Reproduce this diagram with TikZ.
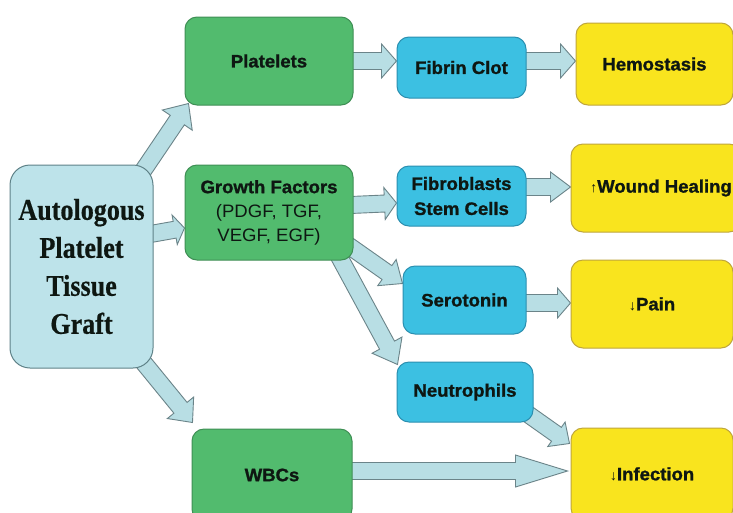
\documentclass[tikz,border=0pt]{standalone}
\usepackage{fontspec}
\usetikzlibrary{calc}
\newfontfamily\graftfont[FakeStretch=0.87, BoldFeatures={FakeBold=0.6}]{Liberation Serif}
\newfontfamily\labf[FakeStretch=1.03, BoldFeatures={FakeBold=1.2}]{Liberation Sans}
\definecolor{graftfill}{HTML}{BDE3EA}
\definecolor{graftdraw}{HTML}{5F8288}
\definecolor{greenfill}{HTML}{52BB6E}
\definecolor{greendraw}{HTML}{3F8F55}
\definecolor{bluefill}{HTML}{3CC0E2}
\definecolor{bluedraw}{HTML}{2B8FB0}
\definecolor{yelfill}{HTML}{F9E41E}
\definecolor{yeldraw}{HTML}{BFA63C}
\definecolor{arrfill}{HTML}{B8DEE4}
\definecolor{arrdraw}{HTML}{6B8489}
\definecolor{txtdark}{HTML}{0E1712}
\pgfdeclarelayer{bg}\pgfsetlayers{bg,main}
\newcommand\barr[4]{%
  \coordinate (bn) at ($(#2)!#3!(#1)$);
  \draw[blockarrow] ($(#1)!8.5pt!90:(#2)$) -- ($(bn)!8.5pt!90:(#2)$) -- ($(bn)!#4!90:(#2)$) -- (#2) -- ($(bn)!#4!-90:(#2)$) -- ($(bn)!8.5pt!-90:(#2)$) -- ($(#1)!8.5pt!-90:(#2)$) -- cycle;}
\tikzset{
  base/.style={rectangle, rounded corners=12pt, line width=1pt, inner sep=0pt, align=center,
    text=txtdark, font=\labf\bfseries\fontsize{18}{25}\selectfont},
  graftbox/.style={base, fill=graftfill, draw=graftdraw, rounded corners=20pt,
    font=\graftfont\bfseries\fontsize{30}{38}\selectfont},
  greenbox/.style={base, fill=greenfill, draw=greendraw},
  bluebox/.style={base, fill=bluefill, draw=bluedraw},
  yelbox/.style={base, fill=yelfill, draw=yeldraw},
  blockarrow/.style={fill=arrfill, draw=arrdraw, line width=0.9pt, line join=miter},
}
\newcommand\upa{{\mdseries\fontsize{14}{14}\selectfont ↑}}
\newcommand\dna{{\mdseries\fontsize{14}{14}\selectfont ↓}}
\begin{document}
\begin{tikzpicture}[x=1pt,y=-1pt]
\useasboundingbox (0,0) rectangle (733,512);
% nodes
\node[graftbox, minimum width=143pt, minimum height=203pt] (graft) at (81.5,266.5) {Autologous\\Platelet\\Tissue\\Graft};
\node[greenbox, minimum width=168pt, minimum height=88pt] (plt) at (269,61) {Platelets};
\node[greenbox, minimum width=168pt, minimum height=95pt, font=\labf\fontsize{18}{24}\selectfont] (gf) at (269,212.5) {\textbf{Growth Factors}\\(PDGF, TGF,\\VEGF, EGF)};
\node[greenbox, minimum width=160pt, minimum height=92pt] (wbc) at (272,475) {WBCs};
\node[bluebox, minimum width=129pt, minimum height=61pt] (fib) at (461.5,67.5) {Fibrin Clot};
\node[bluebox, minimum width=129pt, minimum height=60pt] (fbs) at (461.5,196) {Fibroblasts\\Stem Cells};
\node[bluebox, minimum width=123pt, minimum height=68pt] (ser) at (464.5,300) {Serotonin};
\node[bluebox, minimum width=136pt, minimum height=60pt] (neu) at (465,392) {Neutrophils};
\node[yelbox, minimum width=157pt, minimum height=82pt] (hem) at (654.5,64) {Hemostasis};
\node[yelbox, minimum width=170pt, minimum height=88pt] (wnd) at (656,188) {\makebox[132pt][l]{\upa Wound Healing}};
\node[yelbox, minimum width=162pt, minimum height=88pt] (pain) at (652,304) {\dna Pain};
\node[yelbox, minimum width=162pt, minimum height=92pt] (inf) at (652,474) {\dna Infection};
% arrow end points
\coordinate (a1t) at ($(graft.north east)+(-13,10)$);
\coordinate (a1h) at ($(plt.south west)+(4,-2)$);
\coordinate (a2t) at ($(graft.east)+(-3,-32.5)$);
\coordinate (a2h) at ($(gf.west)+(0,15.5)$);
\coordinate (a3t) at ($(graft.south east)+(-10,-6)$);
\coordinate (a3h) at ($(wbc.north west)+(1,-6)$);
\coordinate (a4t) at ($(plt.east)+(-3,0)$);
\coordinate (a4h) at ($(fib.west)+(0,-6.5)$);
\coordinate (a5t) at ($(fib.east)+(-3,-6.5)$);
\coordinate (a5h) at ($(hem.west)+(0,-3)$);
\coordinate (a6t) at ($(gf.east)+(-3,-7.5)$);
\coordinate (a6h) at ($(fbs.west)+(0,7)$);
\coordinate (a7t) at ($(fbs.east)+(-3,-9)$);
\coordinate (a7h) at ($(wnd.west)+(0,-1)$);
\coordinate (a8t) at ($(gf.south east)+(-5,-15)$);
\coordinate (a8h) at ($(ser.north west)+(0,18)$);
\coordinate (a9t) at ($(gf.south east)+(-15,-5)$);
\coordinate (a9h) at ($(neu.north west)+(1,3)$);
\coordinate (a10t) at ($(ser.east)+(-3,3)$);
\coordinate (a10h) at ($(pain.west)+(0,-1)$);
\coordinate (a11t) at ($(neu.south east)+(-5,-8)$);
\coordinate (a11h) at ($(inf.north west)+(-1,16)$);
\coordinate (a12t) at ($(wbc.east)+(-3,-4)$);
\coordinate (a12h) at ($(inf.west)+(-3,-3)$);
\begin{pgfonlayer}{bg}
\fill[white] (0,0) rectangle (733,512);
\barr{a1t}{a1h}{20pt}{18pt}
\barr{a2t}{a2h}{10pt}{15pt}
\barr{a3t}{a3h}{19pt}{17pt}
\barr{a4t}{a4h}{15pt}{17pt}
\barr{a5t}{a5h}{15pt}{17pt}
\barr{a6t}{a6h}{12pt}{16pt}
\barr{a7t}{a7h}{20pt}{15pt}
\barr{a8t}{a8h}{19pt}{16pt}
\barr{a9t}{a9h}{22pt}{17pt}
\barr{a10t}{a10h}{13pt}{15pt}
\barr{a11t}{a11h}{16pt}{15pt}
\barr{a12t}{a12h}{52pt}{16pt}
\end{pgfonlayer}
\end{tikzpicture}
\end{document}
